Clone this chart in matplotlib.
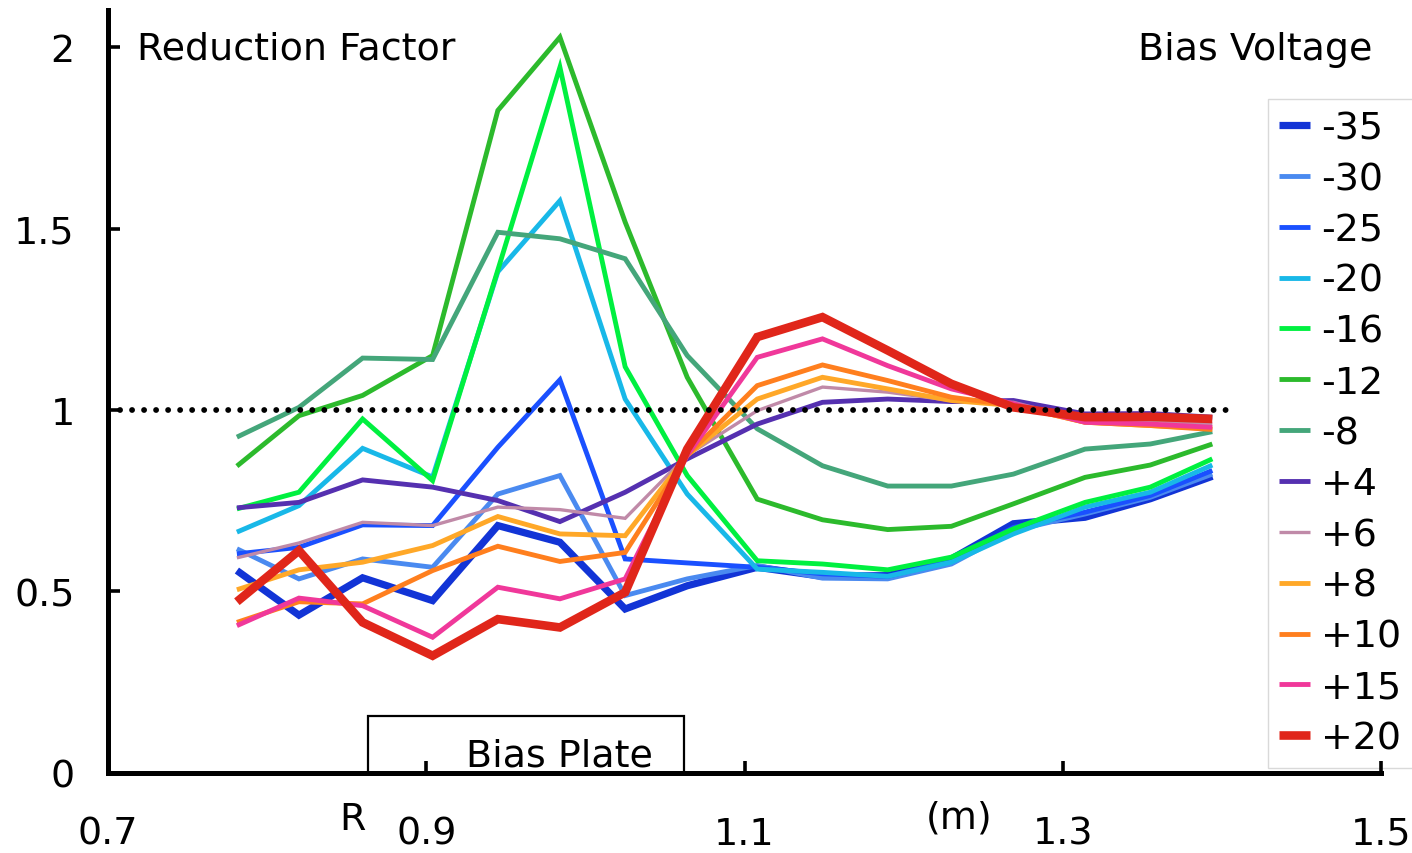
import matplotlib
matplotlib.use("Agg")
import matplotlib.pyplot as plt
from matplotlib.patches import Rectangle

# ---- data ----
R_pos = [0.781, 0.820, 0.860, 0.904, 0.945, 0.984, 1.025, 1.064,
         1.108, 1.149, 1.190, 1.230, 1.269, 1.314, 1.355, 1.394]

labels = ["-35", "-30", "-25", "-20", "-16", "-12", "-8",
          "+4", "+6", "+8", "+10", "+15", "+20"]

v_m35 = [0.557, 0.434, 0.537, 0.474, 0.681, 0.635, 0.451, 0.515, 0.566, 0.541, 0.543, 0.589, 0.686, 0.704, 0.755, 0.817]
v_m30 = [0.617, 0.534, 0.589, 0.566, 0.768, 0.819, 0.488, 0.534, 0.571, 0.536, 0.534, 0.575, 0.667, 0.713, 0.759, 0.823]
v_m25 = [0.603, 0.621, 0.683, 0.681, 0.897, 1.083, 0.589, 0.578, 0.566, 0.548, 0.541, 0.584, 0.676, 0.718, 0.764, 0.833]
v_m20 = [0.663, 0.736, 0.894, 0.815, 1.381, 1.577, 1.030, 0.768, 0.561, 0.552, 0.541, 0.580, 0.658, 0.732, 0.773, 0.848]
v_m16 = [0.727, 0.773, 0.975, 0.805, 1.386, 1.945, 1.119, 0.819, 0.584, 0.575, 0.559, 0.594, 0.672, 0.745, 0.787, 0.865]
v_m12 = [0.845, 0.984, 1.040, 1.150, 1.826, 2.028, 1.518, 1.090, 0.754, 0.697, 0.670, 0.679, 0.741, 0.814, 0.848, 0.906]
v_m8 = [0.925, 1.007, 1.143, 1.139, 1.490, 1.472, 1.417, 1.150, 0.948, 0.846, 0.790, 0.790, 0.823, 0.892, 0.906, 0.940]
v_p4 = [0.730, 0.745, 0.807, 0.787, 0.750, 0.692, 0.773, 0.865, 0.961, 1.021, 1.030, 1.023, 1.026, 0.989, 0.990, 0.980]
v_p6 = [0.592, 0.633, 0.690, 0.681, 0.732, 0.725, 0.701, 0.875, 0.998, 1.063, 1.049, 1.026, 1.021, 0.971, 0.971, 0.961]
v_p8 = [0.504, 0.559, 0.580, 0.626, 0.706, 0.658, 0.653, 0.875, 1.030, 1.090, 1.058, 1.026, 1.012, 0.966, 0.957, 0.948]
v_p10 = [0.414, 0.471, 0.465, 0.557, 0.624, 0.582, 0.607, 0.875, 1.067, 1.124, 1.081, 1.035, 1.012, 0.966, 0.957, 0.946]
v_p15 = [0.405, 0.481, 0.460, 0.373, 0.511, 0.479, 0.534, 0.875, 1.145, 1.196, 1.122, 1.058, 1.017, 0.966, 0.961, 0.952]
v_p20 = [0.471, 0.612, 0.414, 0.322, 0.423, 0.400, 0.497, 0.892, 1.201, 1.256, 1.164, 1.072, 1.007, 0.980, 0.981, 0.975]

series = [v_m35, v_m30, v_m25, v_m20, v_m16, v_m12, v_m8,
          v_p4, v_p6, v_p8, v_p10, v_p15, v_p20]

colors = ["#1234d6", "#4a8af0", "#1a50ff", "#18b8e8", "#00f040", "#2cba2c", "#44a67a",
          "#5530b0", "#c08aa8", "#ffa828", "#ff7f1e", "#f0389a", "#e0261a"]
widths = [5.2, 3.5, 3.5, 3.5, 3.5, 3.5, 3.5, 3.5, 2.4, 3.5, 3.5, 3.5, 6.2]

x_ticks = [0.7, 0.9, 1.1, 1.3, 1.5]
y_ticks = [0, 0.5, 1, 1.5, 2]
y_ticklabels = ["0", "0.5", "1", "1.5", "2"]

FS = 27.4

fig = plt.figure(figsize=(14.12, 8.54), dpi=100)
ax = fig.add_axes([108/1412, 80.5/854, (1381-108)/1412, (773.5-11)/854])
ax.set_xlim(0.7, 1.5)
ax.set_ylim(0, 2.103)

for vals, lab, c, w in zip(series, labels, colors, widths):
    ax.plot(R_pos, vals, color=c, lw=w, label=lab, solid_joinstyle="miter",
            solid_capstyle="butt")

# reference line at 1
ax.plot([0.7, 1.404], [1, 1], color="black", lw=4.2,
        linestyle=(0, (0.01, 2.05)), dash_capstyle="round", zorder=20)

# bias plate box
ax.add_patch(Rectangle((0.8634, 0), 1.062 - 0.8634, 0.156, fill=False,
                       edgecolor="black", lw=1.6, zorder=5))
ax.text(0.9834, 0.018, "Bias Plate", fontsize=FS, ha="center", va="baseline")

ax.text(0.7182, 1.968, "Reduction Factor", fontsize=FS, ha="left", va="baseline")
ax.text(1.4944, 1.968, "Bias Voltage", fontsize=FS, ha="right", va="baseline")

ax.text(0.8533, -0.156, "R", fontsize=FS, ha="center", va="baseline", clip_on=False)
ax.text(1.2348, -0.123, "(m)", fontsize=FS, ha="center", va="center", clip_on=False)

for s in ["top", "right"]:
    ax.spines[s].set_visible(False)
for s in ["left", "bottom"]:
    ax.spines[s].set_linewidth(3.6)

ax.set_xticks(x_ticks)
ax.set_xticklabels([f"{t:.1f}" for t in x_ticks])
ax.set_yticks(y_ticks)
ax.set_yticklabels(y_ticklabels)
ax.tick_params(axis="x", direction="in", length=8.6, width=2.6, pad=31, labelsize=FS)
ax.tick_params(axis="y", direction="in", length=8.6, width=2.6, pad=24, labelsize=FS)

leg = ax.legend(loc="upper left", bbox_to_anchor=(1268/1412, 1 - 100/854),
                bbox_transform=fig.transFigure, fontsize=FS, frameon=True,
                fancybox=False, handlelength=0.8, handletextpad=0.3,
                labelspacing=0.39, borderpad=0.3, borderaxespad=0)
leg.get_frame().set_edgecolor("#d0d0d0")
leg.get_frame().set_linewidth(1.0)
leg.set_zorder(1)

fig.savefig("out.png", dpi=100)
